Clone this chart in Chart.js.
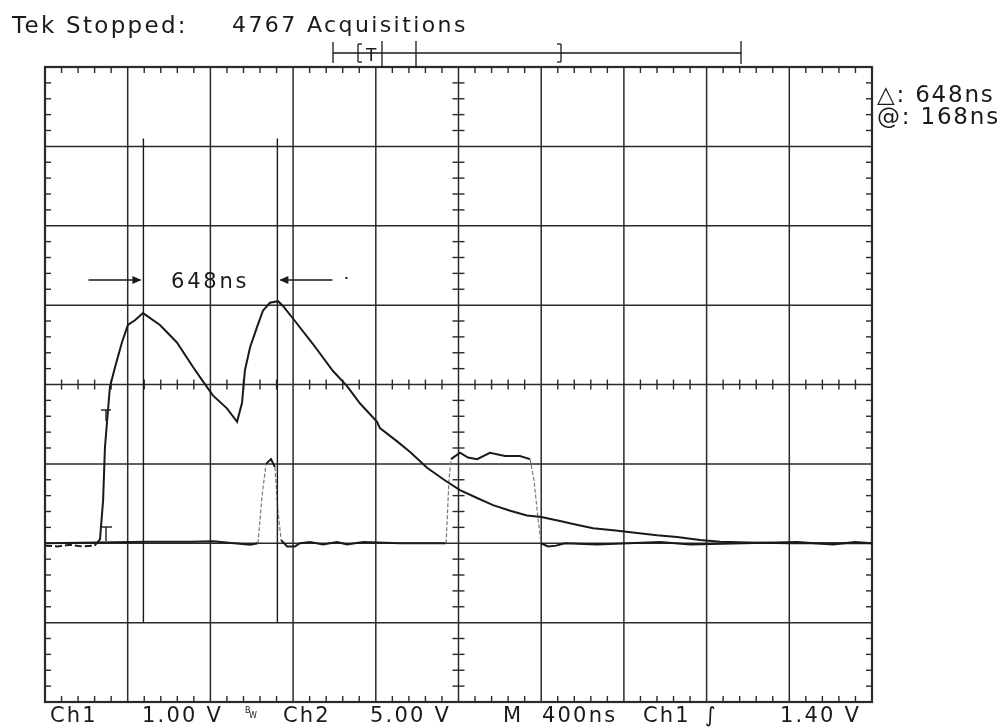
<!DOCTYPE html>
<html>
<head>
<meta charset="utf-8">
<script src="https://cdn.jsdelivr.net/npm/chart.js@4.4.1/dist/chart.umd.min.js"></script>
<style>
  html, body { margin: 0; padding: 0; background: #fff; }
  #wrap { position: relative; width: 1004px; height: 727px; overflow: hidden; background: #fff; }
  #c { position: absolute; left: 0; top: 0; }
  .lbl { position: absolute; white-space: pre; line-height: 1; color: #1a1a1a;
         font-family: "DejaVu Sans", "Liberation Sans", sans-serif; }
</style>
</head>
<body>
<div id="wrap"><canvas id="c" width="1004" height="727"></canvas></div>
<script>
// ---- graticule tick values (10 x 400 ns, 8 x 1.00 V for Ch1 / 5.00 V for Ch2) ----
const timeGrid = [0, 400, 800, 1200, 1600, 2000, 2400, 2800, 3200, 3600, 4000];
const ch1Grid  = [-2, -1, 0, 1, 2, 3, 4, 5, 6];

// ---- Ch1 trace (ns, volts) ----
const ch1Time  = [0, 60, 121, 180, 240, 256, 266, 281, 290, 314, 339, 372, 401, 435, 474,
                  556, 638, 716, 764, 813, 880, 929, 953, 967, 992, 1025, 1054, 1088, 1127,
                  1151, 1209, 1296, 1393, 1461, 1524, 1606, 1620, 1700, 1766, 1848, 1930, 2007,
                  2090, 2167, 2250, 2331, 2400, 2491, 2560, 2651, 2760, 2864, 2960, 3057, 3168,
                  3265, 3400, 3600, 3800, 4000];
const ch1Volts = [-0.03, -0.04, -0.02, -0.04, -0.03, 0.02, 0.05, 0.54, 1.21, 1.97, 2.22, 2.53, 2.75, 2.81, 2.90,
                  2.75, 2.53, 2.22, 2.04, 1.86, 1.70, 1.53, 1.77, 2.18, 2.47, 2.72, 2.93, 3.03, 3.05,
                  2.99, 2.80, 2.51, 2.17, 1.98, 1.76, 1.53, 1.45, 1.29, 1.15, 0.95, 0.80, 0.67,
                  0.57, 0.48, 0.41, 0.35, 0.33, 0.28, 0.24, 0.19, 0.16, 0.13, 0.10, 0.08, 0.04,
                  0.02, 0.01, 0.00, 0.00, 0.00];

// ---- Ch2 trace (ns, volts) ----
const ch2Time  = [0, 498, 711, 813, 992, 1030, 1050, 1069, 1093, 1112, 1127, 1142, 1171, 1209, 1233,
                  1282, 1345, 1412, 1461, 1538, 1717, 1940, 1954, 1964, 2007, 2046, 2090, 2152, 2225,
                  2297, 2346, 2365, 2385, 2399, 2433, 2472, 2515, 2670, 2975, 3120, 3637, 3811, 3918, 4000];
const ch2Volts = [0, 0.1, 0.1, 0.12, -0.1, 0, 3.0, 5.0, 5.3, 4.8, 2.0, 0.2, -0.2, -0.2, 0,
                  0.08, -0.08, 0.08, -0.08, 0.08, 0, 0, 4.0, 5.3, 5.7, 5.4, 5.3, 5.7, 5.5,
                  5.5, 5.3, 4.0, 1.5, 0, -0.2, -0.15, 0, -0.08, 0.08, -0.08, 0.08, -0.08, 0.08, 0];

// ---- cursors ----
const cursorStart = 476;   // ns
const cursorDelta = 648;   // ns
const cursorSpanCh1 = [-1.0, 5.1]; // volts on Ch1 scale

// ---- texts ----
const titleLeft  = "Tek Stopped:";
const titleRight = "4767 Acquisitions";
const readDelta  = "\u25B3: 648ns";
const readAt     = "@: 168ns";
const deltaLabel = "648ns";
const statusTexts = ["Ch1", "1.00 V", "Ch2", "5.00 V", "M", "400ns", "Ch1", "\u222B", "1.40 V"];

const zip = (xs, ys) => xs.map((x, i) => ({ x, y: ys[i] }));

const INK = '#1a1a1a';
const GRID = '#2a2a2a';

function seg(ctx, x1, y1, x2, y2) { ctx.beginPath(); ctx.moveTo(x1, y1); ctx.lineTo(x2, y2); ctx.stroke(); }

const graticule = {
  id: 'graticule',
  beforeDatasetsDraw(chart) {
    const { ctx, chartArea: a, scales } = chart;
    const xs = scales.x, ys = scales.y1;
    ctx.save();
    ctx.strokeStyle = GRID;
    ctx.lineWidth = 1.5;
    const xp = timeGrid.map(t => xs.getPixelForValue(t));
    const yp = ch1Grid.map(v => ys.getPixelForValue(v));
    xp.forEach(px => seg(ctx, px, a.top, px, a.bottom));
    yp.forEach(py => seg(ctx, a.left, py, a.right, py));
    // frame
    ctx.lineWidth = 2.2;
    ctx.strokeRect(a.left, a.top, a.right - a.left, a.bottom - a.top);
    // minor ticks
    ctx.lineWidth = 1.4;
    const cx = xs.getPixelForValue(2000), cy = ys.getPixelForValue(2);
    for (let i = 0; i < timeGrid.length - 1; i++) {
      for (let j = 1; j < 5; j++) {
        const px = xp[i] + (xp[i + 1] - xp[i]) * j / 5;
        seg(ctx, px, a.top, px, a.top + 6);
        seg(ctx, px, a.bottom, px, a.bottom - 6);
        seg(ctx, px, cy - 5, px, cy + 5);
      }
    }
    for (let i = 0; i < ch1Grid.length - 1; i++) {
      for (let j = 1; j < 5; j++) {
        const py = yp[i] + (yp[i + 1] - yp[i]) * j / 5;
        seg(ctx, a.left, py, a.left + 6, py);
        seg(ctx, a.right, py, a.right - 6, py);
        seg(ctx, cx - 6, py, cx + 6, py);
      }
    }
    ctx.restore();
  },
  afterDatasetsDraw(chart) {
    const { ctx, scales } = chart;
    const xs = scales.x, ys = scales.y1;
    ctx.save();
    ctx.strokeStyle = INK;
    ctx.fillStyle = INK;
    ctx.lineWidth = 1.4;
    // cursors
    const c1 = xs.getPixelForValue(cursorStart), c2 = xs.getPixelForValue(cursorStart + cursorDelta);
    const yb = ys.getPixelForValue(cursorSpanCh1[0]), yt = ys.getPixelForValue(cursorSpanCh1[1]);
    seg(ctx, c1, yt, c1, yb);
    seg(ctx, c2, yt, c2, yb);
    // arrows toward cursors
    const ay = 280;
    ctx.lineWidth = 1.5;
    seg(ctx, c1 - 55, ay, c1 - 3, ay);
    ctx.beginPath(); ctx.moveTo(c1 - 2, ay); ctx.lineTo(c1 - 11, ay - 4); ctx.lineTo(c1 - 11, ay + 4); ctx.closePath(); ctx.fill();
    seg(ctx, c2 + 3, ay, c2 + 55, ay);
    ctx.beginPath(); ctx.moveTo(c2 + 2, ay); ctx.lineTo(c2 + 11, ay - 4); ctx.lineTo(c2 + 11, ay + 4); ctx.closePath(); ctx.fill();
    ctx.fillRect(c2 + 68, ay - 3, 2, 2);
    // trigger markers
    ctx.lineWidth = 1.4;
    seg(ctx, 101, 410, 111, 410); seg(ctx, 106, 410, 106, 421);
    seg(ctx, 102, 527, 112, 527); seg(ctx, 106, 527, 106, 541);
    // record view bar
    ctx.lineWidth = 1.3;
    seg(ctx, 333, 53, 741, 53);
    seg(ctx, 333, 42, 333, 63);
    seg(ctx, 382, 41, 382, 68);
    seg(ctx, 416, 41, 416, 68);
    seg(ctx, 741, 41, 741, 64);
    // brackets
    seg(ctx, 358, 44, 358, 62); seg(ctx, 358, 44, 362, 44); seg(ctx, 358, 62, 362, 62);
    seg(ctx, 561, 44, 561, 62); seg(ctx, 557, 44, 561, 44); seg(ctx, 557, 62, 561, 62);
    ctx.restore();
  }
};

const steep = (ctx) => Math.abs(ctx.p1.y - ctx.p0.y) > 3 * Math.abs(ctx.p1.x - ctx.p0.x) + 8;

new Chart(document.getElementById('c'), {
  type: 'line',
  data: {
    datasets: [
      {
        label: 'Ch1', yAxisID: 'y1', data: zip(ch1Time, ch1Volts),
        borderColor: INK, borderWidth: 2, pointRadius: 0, tension: 0,
        segment: { borderDash: c => (c.p1.parsed.x <= 256 ? [7, 3] : undefined) }
      },
      {
        label: 'Ch2', yAxisID: 'y2', data: zip(ch2Time, ch2Volts),
        borderColor: INK, borderWidth: 2, pointRadius: 0, tension: 0,
        segment: {
          borderColor: c => (steep(c) ? '#7a7a7a' : undefined),
          borderDash: c => (steep(c) ? [4, 2] : undefined),
          borderWidth: c => (steep(c) ? 1.2 : undefined)
        }
      }
    ]
  },
  options: {
    responsive: false,
    animation: false,
    devicePixelRatio: 1,
    layout: { padding: { left: 45, top: 67, right: 132, bottom: 25 } },
    plugins: { legend: { display: false }, title: { display: false }, tooltip: { enabled: false } },
    scales: {
      x:  { type: 'linear', min: 0, max: 4000, display: false },
      y1: { type: 'linear', min: -2, max: 6, display: false },
      y2: { type: 'linear', min: -10, max: 30, display: false }
    }
  },
  plugins: [graticule]
});

// ---- real-text labels ----
const wrap = document.getElementById('wrap');
function addText(str, left, baseline, size, spacing) {
  const d = document.createElement('div');
  d.className = 'lbl';
  d.textContent = str;
  d.style.fontSize = size + 'px';
  d.style.left = left + 'px';
  d.style.top = (baseline - 0.846 * size) + 'px';
  if (spacing) d.style.letterSpacing = spacing + 'px';
  wrap.appendChild(d);
  return d;
}
addText(titleLeft, 12, 33, 23, 2.3);
addText(titleRight, 232, 33, 22, 2.4);
addText("T", 366, 61, 17, 0);
addText(readDelta, 877, 102, 23, 1.8);
addText(readAt, 877, 124, 23, 1.8);
addText(deltaLabel, 171, 289, 21, 2.8);
const statusX = [50, 142, 283, 370, 503, 542, 643, 705, 780];
statusTexts.forEach((s, i) => addText(s, statusX[i], 723, 21, 2.2));
addText("B", 245, 714, 8, 0);
addText("W", 249, 719, 8, 0);
</script>
</body>
</html>
